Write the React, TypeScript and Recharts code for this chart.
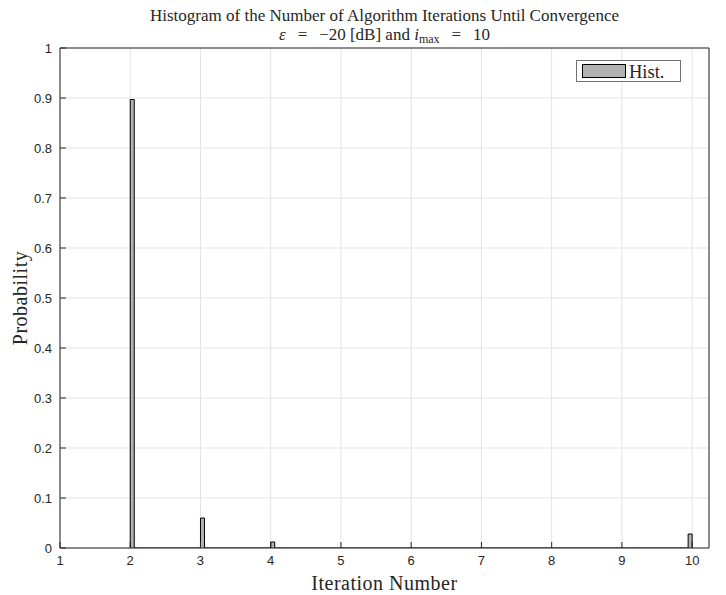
import React from "react";
import {
  ComposedChart,
  Area,
  XAxis,
  YAxis,
  CartesianGrid,
  Legend,
  Label,
} from "recharts";

// histogram values
const iterations = [2, 3, 4, 10];
const binStart = [2, 3, 4, 9.943];
const probability = [0.897, 0.06, 0.012, 0.028];
const binWidth = 0.057;

const xTicks = [1, 2, 3, 4, 5, 6, 7, 8, 9, 10];
const yTicks = [0, 0.1, 0.2, 0.3, 0.4, 0.5, 0.6, 0.7, 0.8, 0.9, 1];

const AXIS_COLOR = "#262626";
const GRID_COLOR = "#e3e3e3";
const BAR_FILL = "#b3b3b3";
const SERIF = "'Liberation Serif', 'Times New Roman', serif";
const SANS = "'Liberation Sans', Arial, Helvetica, sans-serif";

// step outline of the histogram: up at bin start, down at bin end
const histData = iterations.flatMap((it, i) => [
  { x: binStart[i], p: 0, iter: it },
  { x: binStart[i], p: probability[i], iter: it },
  { x: binStart[i] + binWidth, p: 0, iter: it },
]);

const tickStyle = { fontSize: 13, fill: AXIS_COLOR, fontFamily: SANS };
const eqSpace = "\u2002\u2009";

function HistLegend() {
  return (
    <div
      style={{
        width: 103,
        height: 20,
        border: "1px solid #707070",
        background: "#fff",
        display: "flex",
        alignItems: "center",
        boxSizing: "content-box",
      }}
    >
      <div
        style={{
          width: 42,
          height: 12,
          marginLeft: 5,
          background: BAR_FILL,
          border: "1px solid #000",
        }}
      />
      <span
        style={{
          fontFamily: SERIF,
          fontSize: 18.5,
          color: AXIS_COLOR,
          marginLeft: 3,
          lineHeight: "20px",
          paddingTop: 2,
        }}
      >
        Hist.
      </span>
    </div>
  );
}

export default function App() {
  return (
    <div style={{ position: "relative", width: 726, height: 595, background: "#fff" }}>
      <style>{`body{margin:0}`}</style>
      <div
        style={{
          position: "absolute",
          left: 60,
          width: 649,
          top: 6,
          textAlign: "center",
          fontFamily: SERIF,
          fontSize: 17,
          color: AXIS_COLOR,
          lineHeight: "19px",
          zIndex: 2,
        }}
      >
        <div>Histogram of the Number of Algorithm Iterations Until Convergence</div>
        <div>
          <i>ε</i>
          {eqSpace}={eqSpace}−20 [dB] and <i>i</i>
          <sub style={{ fontSize: 12, verticalAlign: "-3px" }}>max</sub>
          {eqSpace}={eqSpace}10
        </div>
      </div>
      <ComposedChart
        width={726}
        height={595}
        data={histData}
        margin={{ top: 47, right: 16, bottom: 0, left: 0 }}
      >
        <CartesianGrid stroke={GRID_COLOR} strokeWidth={1} />
        <XAxis
          type="number"
          dataKey="x"
          domain={[1, 10.24]}
          ticks={xTicks}
          allowDataOverflow
          height={47}
          stroke={AXIS_COLOR}
          tickSize={-6}
          tickMargin={14}
          tick={tickStyle}
        >
          <Label
            content={({ viewBox }: any) => (
              <text
                x={viewBox.x + viewBox.width / 2}
                y={viewBox.y + 42}
                textAnchor="middle"
                fontFamily={SERIF}
                fontSize={20}
                letterSpacing={0.5}
                fill={AXIS_COLOR}
              >
                Iteration Number
              </text>
            )}
          />
        </XAxis>
        <YAxis
          type="number"
          domain={[0, 1]}
          ticks={yTicks}
          allowDataOverflow
          width={60}
          stroke={AXIS_COLOR}
          tickSize={-6}
          tickMargin={14}
          tick={tickStyle}
        >
          <Label
            content={({ viewBox }: any) => {
              const cx = viewBox.x + 20;
              const cy = viewBox.y + viewBox.height / 2;
              return (
                <text
                  x={cx}
                  y={cy}
                  transform={`rotate(-90 ${cx} ${cy})`}
                  textAnchor="middle"
                  dominantBaseline="central"
                  fontFamily={SERIF}
                  fontSize={20}
                  letterSpacing={0.5}
                  fill={AXIS_COLOR}
                >
                  Probability
                </text>
              );
            }}
          />
        </YAxis>
        <XAxis
          xAxisId="top"
          orientation="top"
          type="number"
          domain={[1, 10.24]}
          ticks={xTicks}
          allowDataOverflow
          height={1}
          stroke={AXIS_COLOR}
          tickSize={-6}
          tick={false}
        />
        <YAxis
          yAxisId="right"
          orientation="right"
          type="number"
          domain={[0, 1]}
          ticks={yTicks}
          allowDataOverflow
          width={1}
          stroke={AXIS_COLOR}
          tickSize={-6}
          tick={false}
        />
        <Area
          type="stepAfter"
          dataKey="p"
          name="Hist."
          stroke="#000"
          strokeWidth={1}
          fill={BAR_FILL}
          fillOpacity={1}
          dot={false}
          activeDot={false}
          isAnimationActive={false}
        />
        <Legend
          layout="horizontal"
          verticalAlign="middle"
          align="center"
          content={() => <HistLegend />}
          wrapperStyle={{ position: "absolute", left: 576, top: 60, width: "auto" }}
        />
      </ComposedChart>
    </div>
  );
}
